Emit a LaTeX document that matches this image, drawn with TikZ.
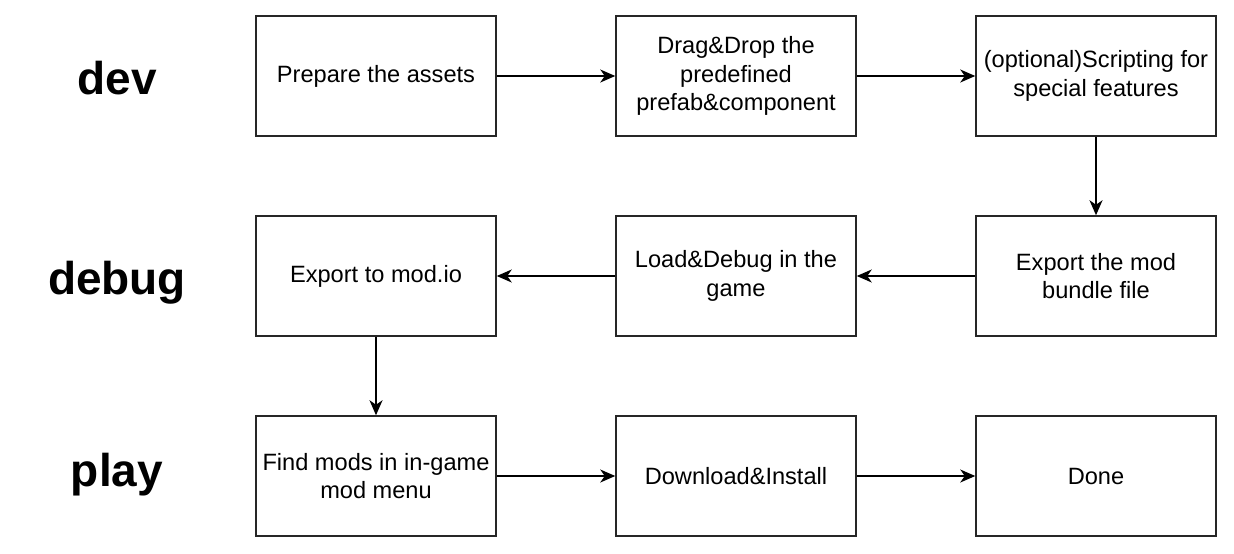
\documentclass[tikz,border=0pt]{standalone}
\usepackage{fontspec}
\setmainfont{Liberation Sans}
\usetikzlibrary{arrows.meta}
\begin{document}
\begin{tikzpicture}[x=1pt,y=-1pt,
  stepbox/.style={draw=black!85, line width=1.5pt, minimum width=240pt, minimum height=120pt,
    inner sep=2pt, align=center, font=\fontsize{23.6}{28.5}\selectfont},
  rowlabel/.style={anchor=base, font=\fontsize{46}{50}\selectfont\bfseries},
  flow/.style={line width=1.6pt, -{Stealth[length=15pt,width=13pt,inset=4.5pt]}}]
\useasboundingbox (0,0) rectangle (1234,554);
\node[rowlabel] (ldev) at (117,94) {dev};
\node[rowlabel] (ldebug) at (117,294) {debug};
\node[rowlabel] (lplay) at (117,486) {play};

\node[stepbox] (a1) at (376,76) {Prepare the assets};
\node[stepbox] (a2) at (736,76) {Drag\&Drop the\\predefined\\prefab\&component};
\node[stepbox] (a3) at (1096,76) {(optional)Scripting for\\special features};
\node[stepbox] (b3) at (1096,276) {Export the mod\\bundle file};
\node[stepbox] (b2) at (736,276) {Load\&Debug in the\\game};
\node[stepbox] (b1) at (376,276) {Export to mod.io};
\node[stepbox] (c1) at (376,476) {Find mods in in-game\\mod menu};
\node[stepbox] (c2) at (736,476) {Download\&Install};
\node[stepbox] (c3) at (1096,476) {Done};

\draw[flow] (a1) -- (a2);
\draw[flow] (a2) -- (a3);
\draw[flow] (a3) -- (b3);
\draw[flow] (b3) -- (b2);
\draw[flow] (b2) -- (b1);
\draw[flow] (b1) -- (c1);
\draw[flow] (c1) -- (c2);
\draw[flow] (c2) -- (c3);
\end{tikzpicture}
\end{document}
